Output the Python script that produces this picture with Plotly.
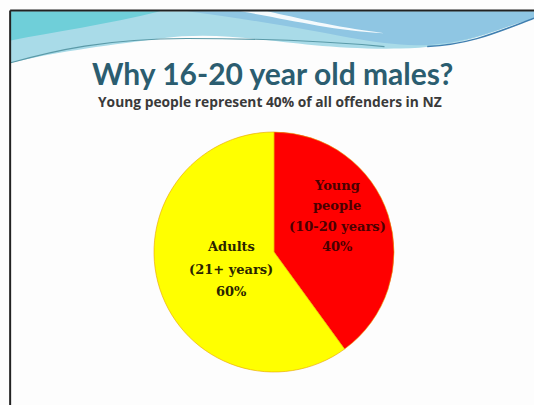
import plotly.graph_objects as go

# Share of all offenders in New Zealand by age group
groups = ["Young people", "Adults"]
age_ranges = ["(10-20 years)", "(21+ years)"]
shares = [40, 60]
slice_colors = ["#ff0000", "#ffff00"]

title_text = "Why 16-20 year old males?"
subtitle_text = "Young people represent 40% of all offenders in NZ"

W, H = 534, 405

fig = go.Figure()

fig.add_trace(go.Pie(
    labels=groups,
    values=shares,
    sort=False,
    direction="clockwise",
    rotation=0,
    marker=dict(colors=slice_colors, line=dict(color="#e8a000", width=0.6)),
    textinfo="none",
    hoverinfo="label+percent",
    showlegend=False,
    domain=dict(x=[152 / W, 396 / W], y=[1 - 372 / H, 1 - 132 / H]),
))

# slice labels, one annotation per line for wide line spacing
label_lines = {
    "Young people": ["Young", "people", age_ranges[0], f"{shares[0]}%"],
    "Adults": ["Adults", age_ranges[1], f"{shares[1]}%"],
}
label_x = {"Young people": 337, "Adults": 231}
label_y = {"Young people": [185, 205, 226, 247], "Adults": [246, 269, 291]}
label_color = {"Young people": "#4a0000", "Adults": "#2a2400"}
for g in groups:
    for line, y in zip(label_lines[g], label_y[g]):
        fig.add_annotation(
            x=label_x[g] / W, y=1 - y / H, xref="paper", yref="paper",
            xanchor="center", yanchor="middle",
            text=f"<b>{line}</b>", showarrow=False,
            font=dict(family="DejaVu Serif", size=13, color=label_color[g]),
        )

# header band across the top of the slide
shapes = [
    dict(type="path", xref="paper", yref="paper", layer="below",
         path=("M 0.02,0.972 L 1,0.972 L 1,0.955 "
               "C 0.93,0.93 0.88,0.885 0.75,0.88 "
               "C 0.55,0.875 0.45,0.93 0.3,0.905 "
               "C 0.18,0.885 0.1,0.87 0.02,0.845 Z"),
         fillcolor="#a9dbe8", line=dict(width=0)),
    dict(type="path", xref="paper", yref="paper", layer="below",
         path=("M 0.35,0.972 L 1,0.972 L 1,0.955 "
               "C 0.93,0.93 0.88,0.89 0.78,0.888 "
               "C 0.68,0.89 0.6,0.93 0.35,0.972 Z"),
         fillcolor="#8fc6e3", line=dict(width=0)),
    dict(type="path", xref="paper", yref="paper", layer="below",
         path=("M 0.02,0.972 L 0.3,0.972 "
               "C 0.2,0.94 0.1,0.92 0.02,0.9 Z"),
         fillcolor="#6fcfd9", line=dict(width=0)),
    # white swoosh
    dict(type="path", xref="paper", yref="paper", layer="below",
         path=("M 0.45,0.972 C 0.55,0.95 0.62,0.925 0.72,0.918 "
               "C 0.62,0.935 0.56,0.955 0.5,0.972 Z"),
         fillcolor="white", line=dict(width=0), opacity=0.9),
    # thin curves under the band
    dict(type="path", xref="paper", yref="paper", layer="below",
         path=("M 0.02,0.845 C 0.1,0.875 0.2,0.905 0.35,0.905 "
               "C 0.5,0.905 0.6,0.9 0.72,0.885"),
         line=dict(color="#5a9aa8", width=1.2)),
    dict(type="path", xref="paper", yref="paper", layer="below",
         path="M 0.8,0.885 C 0.88,0.89 0.93,0.92 1,0.955",
         line=dict(color="#3f7fb0", width=1.5)),
    # slide frame
    dict(type="line", xref="paper", yref="paper", x0=0.019, x1=1.0, y0=0.974, y1=0.974,
         line=dict(color="#222222", width=2)),
    dict(type="line", xref="paper", yref="paper", x0=0.019, x1=0.019, y0=0.974, y1=0.0,
         line=dict(color="#222222", width=2)),
]

fig.add_annotation(
    x=272 / W, y=1 - 73 / H, xref="paper", yref="paper",
    xanchor="center", yanchor="middle",
    text=f"<b>{title_text}</b>", showarrow=False,
    font=dict(family="Lato", size=30, color="#2b5d70"),
)
fig.add_annotation(
    x=270 / W, y=1 - 102 / H, xref="paper", yref="paper",
    xanchor="center", yanchor="middle",
    text=f"<b>{subtitle_text}</b>", showarrow=False,
    font=dict(family="Open Sans", size=13.8, color="#3a3a3a"),
)

fig.update_layout(
    width=W, height=H,
    margin=dict(l=0, r=0, t=0, b=0),
    paper_bgcolor="#fdfdfd",
    plot_bgcolor="#fdfdfd",
    shapes=shapes,
)

fig.write_html("out.html")
